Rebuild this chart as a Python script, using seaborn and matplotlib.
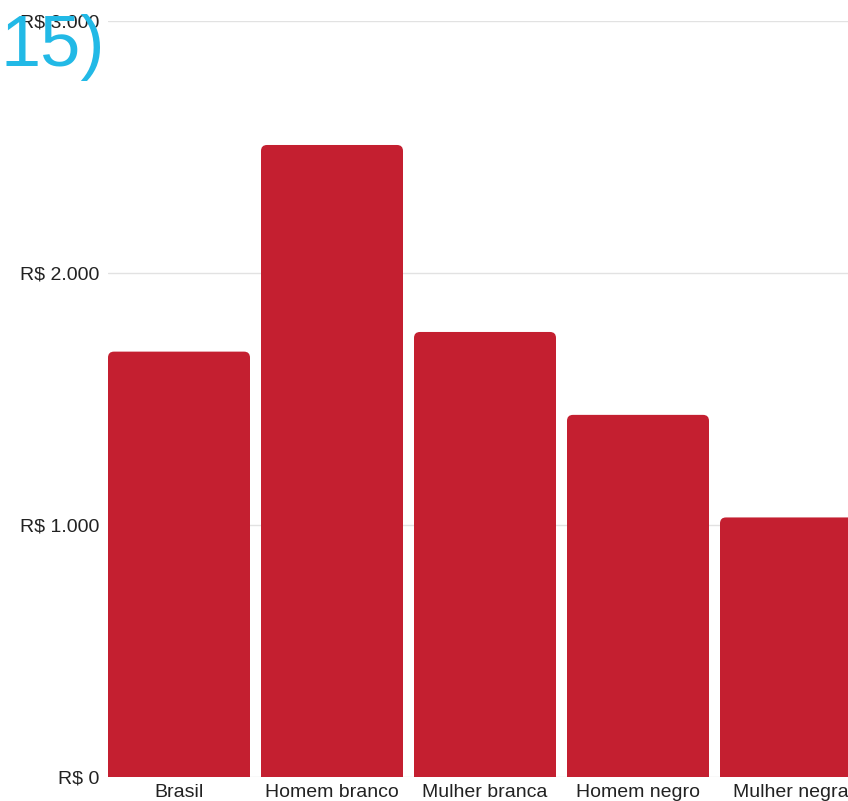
import matplotlib
matplotlib.use("Agg")
import matplotlib.pyplot as plt
import seaborn as sns
import pandas as pd
from matplotlib.patches import FancyBboxPatch

# renda media por grupo (R$)
categorias = ["Brasil", "Homem branco", "Mulher branca", "Homem negro", "Mulher negra"]
valores = [1688, 2508, 1766, 1437, 1030]
yticks = [0, 1000, 2000, 3000]
ytick_labels = ["R$ 0", "R$ 1.000", "R$ 2.000", "R$ 3.000"]

BAR_COLOR = "#c41f30"
GRID_COLOR = "#e2e2e2"

df = pd.DataFrame({"grupo": categorias, "renda": valores})

sns.set_style("white")
plt.rcParams["font.family"] = ["Liberation Sans", "DejaVu Sans"]

fig = plt.figure(figsize=(8.48, 8.01), dpi=100)
ax = fig.add_axes([108 / 848, 24 / 801, 740 / 848, 756 / 801])

bw = 142 / 153
sns.barplot(data=df, x="grupo", y="renda", color=BAR_COLOR, width=bw,
            saturation=1, ax=ax, zorder=3)

# swap plain rectangles for rounded-top boxes
rx = 6 / 153
ry = 6 / 252 * 1000
for p in list(ax.patches):
    x, w, h = p.get_x(), p.get_width(), p.get_height()
    p.remove()
    box = FancyBboxPatch((x, -2 * ry), w, h + 2 * ry,
                         boxstyle=f"round,pad=0,rounding_size={rx}",
                         mutation_aspect=ry / rx,
                         facecolor=BAR_COLOR, edgecolor="none", zorder=3)
    ax.add_patch(box)

ax.set_xlim(-bw / 2, -bw / 2 + 740 / 153)
ax.set_ylim(0, 3000)
ax.set_yticks(yticks)
ax.set_yticklabels(ytick_labels)
ax.yaxis.grid(True, color=GRID_COLOR, linewidth=1, zorder=0)
ax.set_axisbelow(True)
for s in ax.spines.values():
    s.set_visible(False)
ax.tick_params(axis="both", length=0, labelsize=14, colors="#222222")
ax.tick_params(axis="y", pad=6)
ax.tick_params(axis="x", pad=5)
ax.set_xlabel("")
ax.set_ylabel("")

fig.text(0.0, 0.918, "15)", fontsize=52, color="#22b9e6",
         family=["Liberation Sans"], ha="left", va="baseline", zorder=10)

fig.savefig("out.png", dpi=100)
